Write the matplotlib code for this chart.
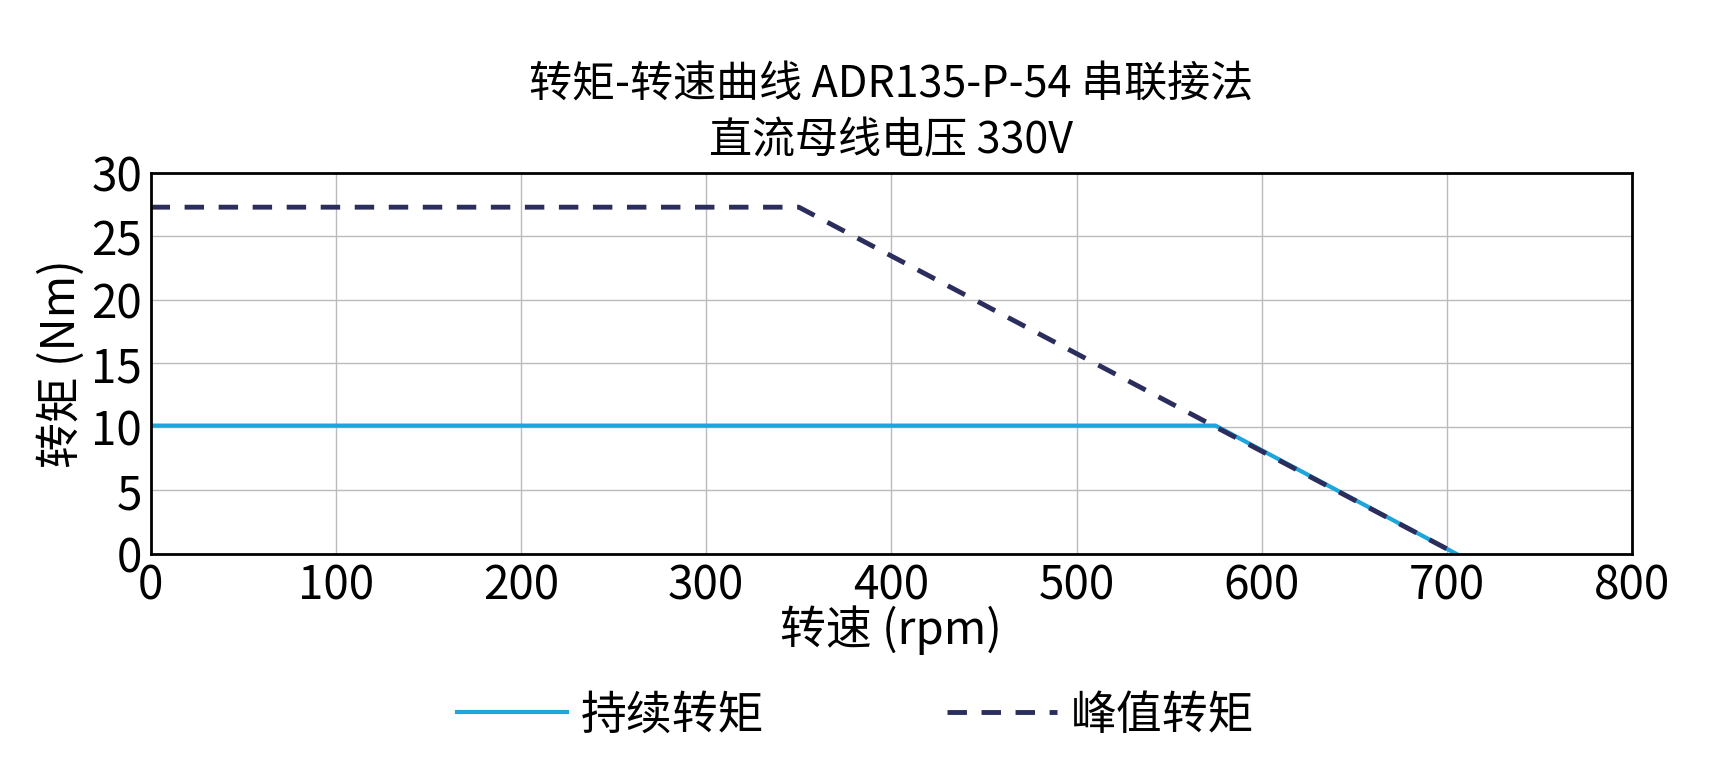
import matplotlib
matplotlib.use("Agg")
import matplotlib.pyplot as plt

plt.rcParams['font.family'] = ['Noto Sans CJK SC', 'DejaVu Sans']

cont_speed = [0, 575, 705]
cont_torque = [10.1, 10.1, 0]
peak_speed = [0, 350, 705]
peak_torque = [27.3, 27.3, 0]

fig = plt.figure(figsize=(17.11, 7.65), dpi=100)
ax = fig.add_axes([0.088, 0.276, 0.866, 0.498])
ax.plot(cont_speed, cont_torque, color='#1ea5dc', lw=3, label='持续转矩')
ax.plot(peak_speed, peak_torque, color='#2b2d5c', lw=3.5, ls=(0, (4, 3)), label='峰值转矩')
ax.set_xlim(0, 800)
ax.set_ylim(0, 30)
ax.set_xticks(range(0, 801, 100))
ax.set_yticks(range(0, 31, 5))
ax.grid(True, color='#bbbbbb', lw=1)
for s in ax.spines.values():
    s.set_linewidth(2)
ax.tick_params(labelsize=33, length=0, pad=6)
ax.set_xlabel('转速 (rpm)', fontsize=33, labelpad=-4)
ax.set_ylabel('转矩 (Nm)', fontsize=33, labelpad=4)
ax.set_title('转矩-转速曲线 ADR135-P-54 串联接法\n直流母线电压 330V', fontsize=31, pad=14, linespacing=1.35)
ax.legend(loc='center', bbox_to_anchor=(0.5, 0.065), bbox_transform=fig.transFigure, ncol=2,
          frameon=False, fontsize=33, handlelength=2.4, columnspacing=4, handletextpad=0.3)
fig.savefig('out.png', dpi=100)
